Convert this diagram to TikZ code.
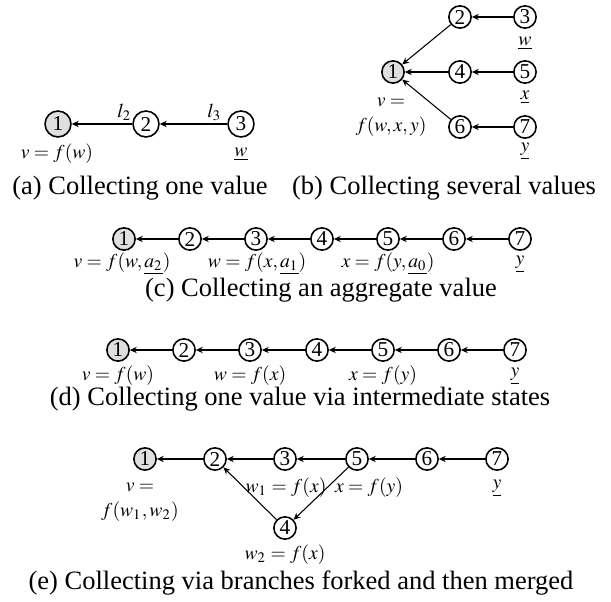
\documentclass[tikz,border=0pt]{standalone}
\usepackage{mathptmx}
\usepackage[no-math]{fontspec}
\setmainfont{Liberation Serif}
\usetikzlibrary{arrows.meta}

\begin{document}
\begin{tikzpicture}[
  x=0.3774pt, y=-0.3774pt,
  st/.style={circle, draw, line width=0.6pt, minimum size=8.4pt, inner sep=0pt, font=\fontsize{8}{9}\selectfont},
  root/.style={st, fill=gray!25},
  big/.style={minimum size=9.8pt},
  val/.style={font=\fontsize{7.4}{9.4}\selectfont, inner sep=0pt, align=center},
  subcap/.style={font=\fontsize{10}{12}\selectfont, inner sep=0pt},
  arr/.style={-{Stealth[length=2.6pt,width=2.4pt]}, line width=0.4pt}
]
  \useasboundingbox (0,0) rectangle (611,602);

  %% (a) Collecting one value
  \node[root, big] (a1) at (58,124) {1};
  \node[st, big]   (a2) at (146,124) {2};
  \node[st, big]   (a3) at (241,124) {3};
  \draw[arr] (a2) -- node[val, above=1pt, pos=0.13] {$l_2$} (a1);
  \draw[arr] (a3) -- node[val, above=1pt, pos=0.19] {$l_3$} (a2);
  \node[val] (va1) at (57,154) {$v=f(w)$};
  \node[val] (va3) at (241,154) {$\underline{w}$};
  \node[subcap] (capa) at (140,188) {(a) Collecting one value};

  %% (b) Collecting several values
  \node[root] (b1) at (393,72) {1};
  \node[st]   (b2) at (460,17) {2};
  \node[st]   (b3) at (525,17) {3};
  \node[st]   (b4) at (460,72) {4};
  \node[st]   (b5) at (525,72) {5};
  \node[st]   (b6) at (460,127) {6};
  \node[st]   (b7) at (525,127) {7};
  \draw[arr] (b2) -- (b1);
  \draw[arr] (b4) -- (b1);
  \draw[arr] (b6) -- (b1);
  \draw[arr] (b3) -- (b2);
  \draw[arr] (b5) -- (b4);
  \draw[arr] (b7) -- (b6);
  \node[val] (vb1) at (391,117) {$v=$\\$f(w,x,y)$};
  \node[val] (vb3) at (525,43) {$\underline{w}$};
  \node[val] (vb5) at (525,97) {$\underline{x}$};
  \node[val] (vb7) at (525,151) {$\underline{y}$};
  \node[subcap] (capb) at (444,188) {(b) Collecting several values};

  %% (c) Collecting an aggregate value
  \node[root] (c1) at (124,239) {1};
  \node[st]   (c2) at (190,239) {2};
  \node[st]   (c3) at (256,239) {3};
  \node[st]   (c4) at (322,239) {4};
  \node[st]   (c5) at (388,239) {5};
  \node[st]   (c6) at (454,239) {6};
  \node[st]   (c7) at (520,239) {7};
  \draw[arr] (c2) -- (c1);
  \draw[arr] (c3) -- (c2);
  \draw[arr] (c4) -- (c3);
  \draw[arr] (c5) -- (c4);
  \draw[arr] (c6) -- (c5);
  \draw[arr] (c7) -- (c6);
  \node[val] (vc1) at (122,264) {$v=f(w,\underline{a_2})$};
  \node[val] (vc3) at (257,264) {$w=f(x,\underline{a_1})$};
  \node[val] (vc5) at (388,264) {$x=f(y,\underline{a_0})$};
  \node[val] (vc7) at (520,264) {$\underline{y}$};
  \node[subcap] (capc) at (321,290) {(c) Collecting an aggregate value};

  %% (d) Collecting one value via intermediate states
  \node[root] (d1) at (118,350) {1};
  \node[st]   (d2) at (184,350) {2};
  \node[st]   (d3) at (250,350) {3};
  \node[st]   (d4) at (317,350) {4};
  \node[st]   (d5) at (383,350) {5};
  \node[st]   (d6) at (449,350) {6};
  \node[st]   (d7) at (515,350) {7};
  \draw[arr] (d2) -- (d1);
  \draw[arr] (d3) -- (d2);
  \draw[arr] (d4) -- (d3);
  \draw[arr] (d5) -- (d4);
  \draw[arr] (d6) -- (d5);
  \draw[arr] (d7) -- (d6);
  \node[val] (vd1) at (118,376) {$v=f(w)$};
  \node[val] (vd3) at (250,376) {$w=f(x)$};
  \node[val] (vd5) at (383,376) {$x=f(y)$};
  \node[val] (vd7) at (515,376) {$\underline{y}$};
  \node[subcap] (capd) at (300,399) {(d) Collecting one value via intermediate states};

  %% (e) Collecting via branches forked and then merged
  \node[root] (e1) at (145,459) {1};
  \node[st]   (e2) at (215,459) {2};
  \node[st]   (e3) at (285,459) {3};
  \node[st]   (e4) at (285,528) {4};
  \node[st]   (e5) at (357,459) {5};
  \node[st]   (e6) at (427,459) {6};
  \node[st]   (e7) at (497,459) {7};
  \draw[arr] (e2) -- (e1);
  \draw[arr] (e3) -- (e2);
  \draw[arr] (e5) -- (e3);
  \draw[arr] (e6) -- (e5);
  \draw[arr] (e7) -- (e6);
  \draw[arr] (e4) -- (e2);
  \draw[arr] (e5) -- (e4);
  \node[val] (ve1) at (140,502) {$v=$\\$f(w_1,w_2)$};
  \node[val] (ve3) at (286,488) {$w_1=f(x)$};
  \node[val] (ve5) at (369,488) {$x=f(y)$};
  \node[val] (ve7) at (497,488) {$\underline{y}$};
  \node[val] (ve4) at (285,555) {$w_2=f(x)$};
  \node[subcap] (cape) at (301,583) {(e) Collecting via branches forked and then merged};
\end{tikzpicture}
\end{document}
